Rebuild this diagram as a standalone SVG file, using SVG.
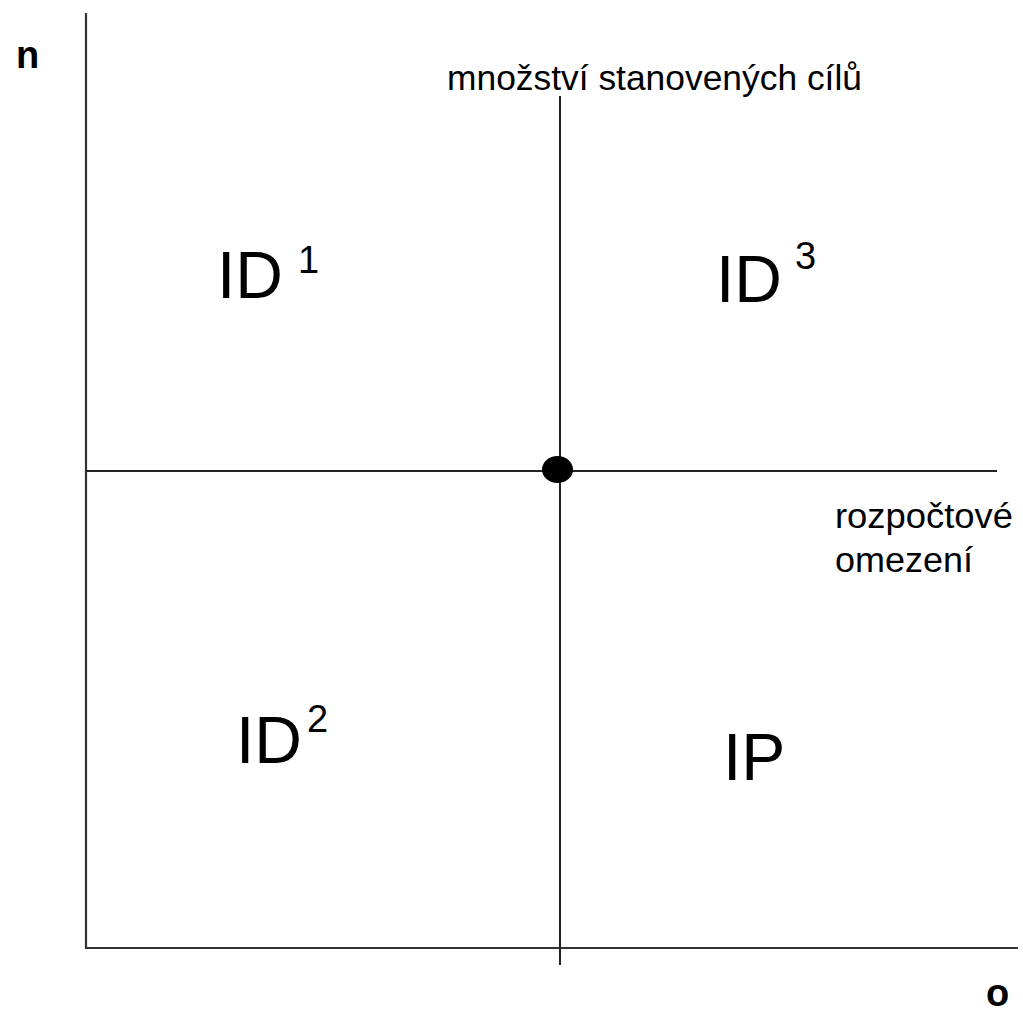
<svg xmlns="http://www.w3.org/2000/svg" width="1023" height="1013" viewBox="0 0 1023 1013">
<style>
.ax{stroke:#333;stroke-width:2.2;fill:none}
.ln{stroke:#222;stroke-width:2;fill:none}
.t{font-family:"Liberation Sans",Arial,sans-serif;fill:#000}
.big{font-size:66px}
.sup{font-size:38px}
.lab{font-size:35px}
.axl{font-size:38px;font-weight:bold}
</style>
<rect width="1023" height="1013" fill="#fff"/>
<g id="connectors">
<polyline class="ax" points="86,13 86,948 1018,948"/>
<line class="ln" x1="560" y1="96" x2="560" y2="965"/>
<line class="ln" x1="86" y1="471" x2="997" y2="471"/>
</g>
<g id="center-point"><ellipse cx="557.5" cy="469.5" rx="15.5" ry="13.5" fill="#000"/></g>
<g id="axis-n"><text class="t axl" x="16" y="68">n</text></g>
<g id="axis-o"><text class="t axl" x="986" y="1006">o</text></g>
<g id="label-goals"><text class="t lab" x="447" y="90" textLength="415" lengthAdjust="spacingAndGlyphs">množství stanovených cílů</text></g>
<g id="label-budget"><text class="t lab" x="835" y="528" textLength="178" lengthAdjust="spacingAndGlyphs">rozpočtové</text><text class="t lab" x="835" y="572" textLength="138" lengthAdjust="spacingAndGlyphs">omezení</text></g>
<g id="q-id1"><text class="t big" x="217" y="298">ID</text><text class="t sup" x="298" y="273" font-size="34">1</text></g>
<g id="q-id3"><text class="t big" x="716" y="302">ID</text><text class="t sup" x="795" y="269">3</text></g>
<g id="q-id2"><text class="t big" x="236" y="763">ID</text><text class="t sup" x="307" y="732">2</text></g>
<g id="q-ip"><text class="t big" x="723" y="780">IP</text></g>
</svg>
